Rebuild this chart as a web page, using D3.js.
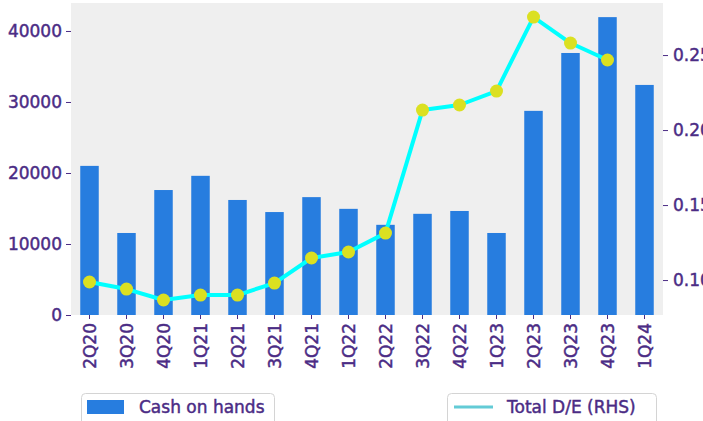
<!DOCTYPE html>
<html>
<head>
<meta charset="utf-8">
<script src="https://cdn.jsdelivr.net/npm/d3@7"></script>
<style>
  html, body { margin: 0; padding: 0; background: #ffffff; overflow: hidden; }
  svg { display: block; font-family: "DejaVu Sans", sans-serif; }
  text { stroke: #4b2c85; stroke-width: 0.45px; }
</style>
</head>
<body>
<svg id="chart" width="703" height="421"></svg>
<script>
const categories = ["2Q20","3Q20","4Q20","1Q21","2Q21","3Q21","4Q21","1Q22","2Q22","3Q22","4Q22","1Q23","2Q23","3Q23","4Q23","1Q24"];
const cashOnHands = [21000, 11550, 17600, 19600, 16200, 14500, 16600, 14950, 12700, 14250, 14650, 11550, 28750, 36900, 41950, 32400];
const totalDE = [0.0987, 0.094, 0.0867, 0.090, 0.090, 0.098, 0.1147, 0.1187, 0.1313, 0.2133, 0.2167, 0.226, 0.2753, 0.258, 0.2467, null];
const leftTicks = [0, 10000, 20000, 30000, 40000];
const rightTicks = [0.10, 0.15, 0.20, 0.25];
const legendLabels = ["Cash on hands", "Total D/E (RHS)"];

const textColor = "#4b2c85";
const barColor = "#277ddf";
const lineColor = "#00ffff";
const markerColor = "#dbe021";

const svg = d3.select("#chart");
const plot = { left: 71, right: 663, top: 3, bottom: 315 };

const x = d3.scaleBand().domain(categories).range([plot.left, plot.right]).paddingInner(0.5).paddingOuter(0.25);
const yL = d3.scaleLinear().domain([0, 43940]).range([plot.bottom, plot.top]);
const yR = d3.scaleLinear().domain([0.0767, 0.2847]).range([plot.bottom, plot.top]);

svg.append("rect")
  .attr("x", plot.left).attr("y", plot.top)
  .attr("width", plot.right - plot.left).attr("height", plot.bottom - plot.top)
  .attr("fill", "#efefef");

// bars
svg.append("g").selectAll("rect").data(categories).join("rect")
  .attr("x", d => x(d))
  .attr("y", (d, i) => yL(cashOnHands[i]))
  .attr("width", x.bandwidth())
  .attr("height", (d, i) => plot.bottom - yL(cashOnHands[i]))
  .attr("fill", barColor);

// line
const pts = categories.map((c, i) => ({ c, v: totalDE[i] })).filter(p => p.v !== null);
const line = d3.line().x(p => x(p.c) + x.bandwidth() / 2).y(p => yR(p.v));
svg.append("path").datum(pts).attr("d", line)
  .attr("fill", "none").attr("stroke", lineColor).attr("stroke-width", 4).attr("stroke-linejoin", "round");
svg.append("g").selectAll("circle").data(pts).join("circle")
  .attr("cx", p => x(p.c) + x.bandwidth() / 2)
  .attr("cy", p => yR(p.v))
  .attr("r", 6.5)
  .attr("fill", markerColor);

// axes
function styleAxis(g) {
  g.select(".domain").remove();
  g.selectAll(".tick line").attr("stroke", textColor).attr("stroke-width", 1);
  g.selectAll(".tick text").attr("fill", textColor).attr("font-size", 17).attr("font-family", "DejaVu Sans, sans-serif");
}
svg.append("g").attr("transform", `translate(${plot.left},0)`)
  .call(d3.axisLeft(yL).tickValues(leftTicks).tickFormat(d3.format("d")).tickSize(5).tickPadding(4))
  .call(styleAxis);
svg.append("g").attr("transform", `translate(${plot.right},0)`)
  .call(d3.axisRight(yR).tickValues(rightTicks).tickFormat(d3.format(".2f")).tickSize(5).tickPadding(5))
  .call(styleAxis);
const xa = svg.append("g").attr("transform", `translate(0,${plot.bottom})`)
  .call(d3.axisBottom(x).tickSize(4).tickPadding(4))
  .call(styleAxis);
xa.selectAll(".tick text")
  .attr("transform", "rotate(-90)")
  .attr("text-anchor", "end")
  .attr("dy", "0.36em")
  .attr("x", -8)
  .attr("y", 0);

// legend
const lg = svg.append("g");
lg.append("rect").attr("x", 81.5).attr("y", 393.5).attr("width", 193).attr("height", 40).attr("rx", 4)
  .attr("fill", "#ffffff").attr("stroke", "#d4d4d4");
lg.append("rect").attr("x", 87).attr("y", 400).attr("width", 37).attr("height", 14).attr("fill", barColor);
lg.append("text").attr("x", 139).attr("y", 413).attr("fill", textColor).attr("font-size", 17).text(legendLabels[0]);

lg.append("rect").attr("x", 447.5).attr("y", 393.5).attr("width", 209).attr("height", 40).attr("rx", 4)
  .attr("fill", "#ffffff").attr("stroke", "#d4d4d4");
lg.append("line").attr("x1", 454).attr("x2", 493).attr("y1", 407).attr("y2", 407)
  .attr("stroke", "#63cbd6").attr("stroke-width", 3);
lg.append("text").attr("x", 507).attr("y", 413).attr("fill", textColor).attr("font-size", 17).text(legendLabels[1]);
</script>
</body>
</html>
